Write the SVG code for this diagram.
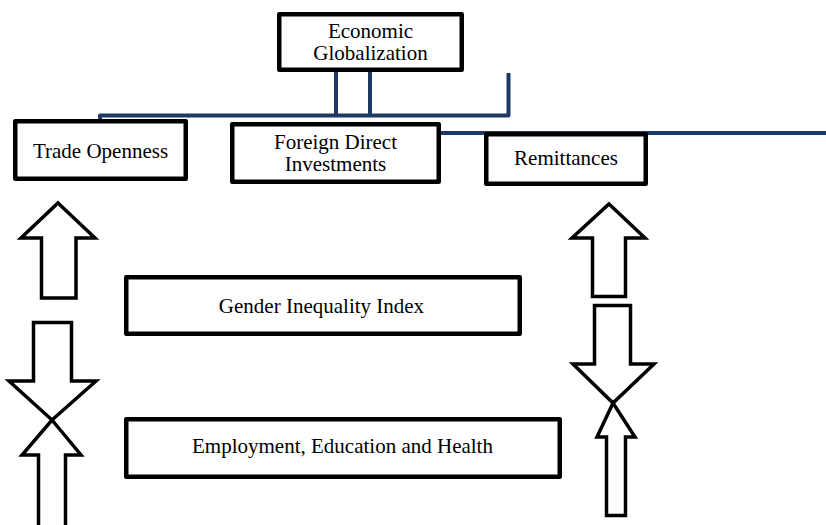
<svg xmlns="http://www.w3.org/2000/svg" width="826" height="525" viewBox="0 0 826 525">
<style>
.box{fill:#fff;stroke:#000;stroke-width:4.5;stroke-linejoin:round}
.t{font-family:"Liberation Serif","Times New Roman",serif;font-size:21px;fill:#000;text-anchor:middle}
.arr{fill:#fff;stroke:#000;stroke-width:3.5;stroke-linejoin:miter}
.ln{fill:none;stroke:#1f3864;stroke-width:4;stroke-linejoin:round}
</style>
<rect width="826" height="525" fill="#fff"/>
<g id="connectors">
<path class="ln" d="M336,72 V117 M370,72 V117"/>
<path class="ln" d="M100,120 V115.5 H508.5 V73"/>
<path class="ln" d="M441,133 H826"/>
<polygon class="arr" points="58,203 95,238 76,238 76,298 41.5,298 41.5,238 21,238"/>
<polygon class="arr" points="33.5,322.5 71.5,322.5 71.5,381 96,381 52,420 9,381 33.5,381"/>
<polygon class="arr" points="52,420 81,455 65.5,455 65.5,527 38.5,527 38.5,455 22,455"/>
<polygon class="arr" points="609,204 645,238 625.5,238 625.5,296.5 592.5,296.5 592.5,238 572,238"/>
<polygon class="arr" points="594.5,305.5 630.5,305.5 630.5,364 654,364 613,403 573,364 594.5,364"/>
<polygon class="arr" points="613,403 635,437 625.5,437 625.5,515.5 606.5,515.5 606.5,437 597,437"/>
</g>
<g id="economic-globalization">
<rect class="box" x="279.25" y="14.25" width="182.5" height="55.5"/>
<text class="t" x="370.5" y="38">Economic</text>
<text class="t" x="370.5" y="60">Globalization</text>
</g>
<g id="trade-openness">
<rect class="box" x="15.25" y="121.25" width="170.5" height="57.5"/>
<text class="t" x="100.5" y="158">Trade Openness</text>
</g>
<g id="fdi">
<rect class="box" x="232.25" y="124.25" width="206.5" height="57.5"/>
<text class="t" x="335.5" y="149">Foreign Direct</text>
<text class="t" x="335.5" y="171">Investments</text>
</g>
<g id="remittances">
<rect class="box" x="486.25" y="134.25" width="159.5" height="49.5"/>
<text class="t" x="566" y="165">Remittances</text>
</g>
<g id="gender-inequality-index">
<rect class="box" x="126.25" y="277.25" width="393.5" height="56.5"/>
<text class="t" x="321.5" y="313">Gender Inequality Index</text>
</g>
<g id="employment-education-health">
<rect class="box" x="126.25" y="419.25" width="433.5" height="57.5"/>
<text class="t" x="342.5" y="453">Employment, Education and Health</text>
</g>
</svg>
